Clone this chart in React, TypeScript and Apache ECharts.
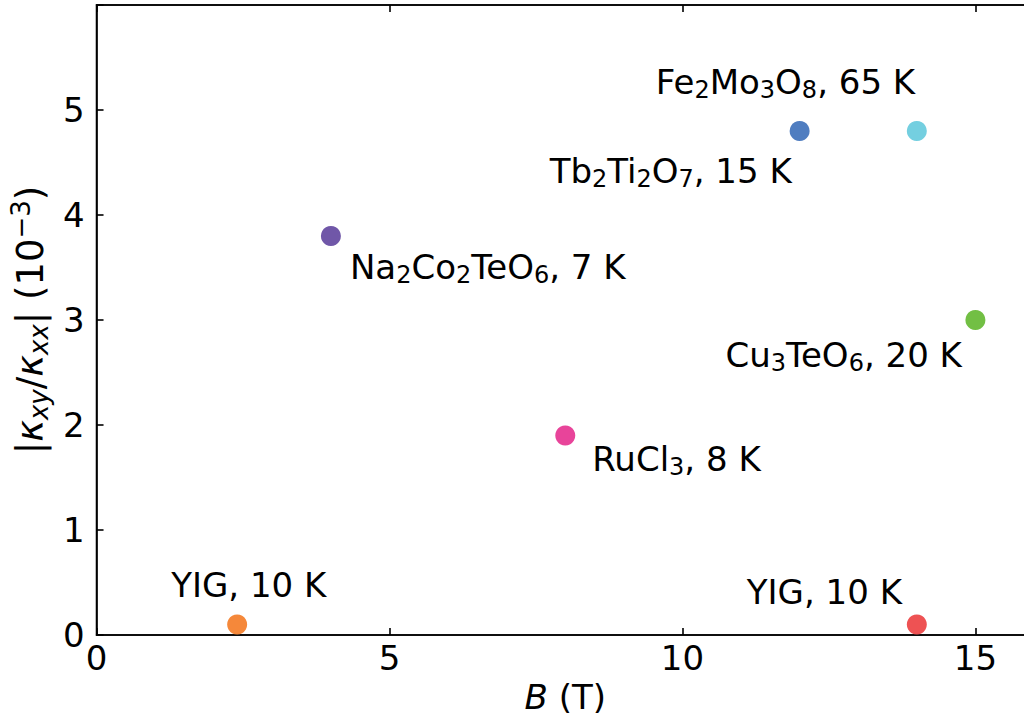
import React, { useEffect, useRef } from "react";
import * as echarts from "echarts";

// Data
const xValues = [2.4, 4, 8, 12, 14, 15, 14];
const yValues = [0.1, 3.8, 1.9, 4.8, 4.8, 3.0, 0.1];
const pointLabels = [
  "YIG, 10 K",
  "Na_2Co_2TeO_6, 7 K",
  "RuCl_3, 8 K",
  "Tb_2Ti_2O_7, 15 K",
  "Fe_2Mo_3O_8, 65 K",
  "Cu_3TeO_6, 20 K",
  "YIG, 10 K",
];
const pointColors = ["#f5883a", "#7057a8", "#e8449a", "#4f7dc0", "#74cfe0", "#72bf44", "#ee5253"];
// label placement (pixel offsets from point, text left / middle)
const labelOffsets = [
  [-66, -40],
  [19, 31],
  [27, 23],
  [-250, 40],
  [-261, -49],
  [-250, 35],
  [-170, -33],
];
const xTicks = [0, 5, 10, 15];
const yTicks = [0, 1, 2, 3, 4, 5];

const FONT = "DejaVu Sans";
const FS = 34;
const SUB = 24;
const YFS = 37;
const YSUB = 26;

function toRich(s: string): string {
  const parts = s.split(/_(\d)/);
  let out = "";
  parts.forEach((p, i) => {
    if (p === "") return;
    if (i % 2 === 1) out += `{s|${p}}`;
    else out += `{n|${p}}`;
  });
  return out;
}

const richBase = {
  n: { fontSize: FS, lineHeight: 40, fontFamily: FONT, color: "#000", verticalAlign: "middle" },
  s: { fontSize: SUB, lineHeight: 22, fontFamily: FONT, color: "#000", verticalAlign: "bottom" },
};

const richY = {
  n: { fontSize: YFS, lineHeight: 44, fontFamily: FONT, color: "#000", verticalAlign: "middle" },
  k: { fontSize: YFS, lineHeight: 44, fontFamily: FONT, color: "#000", fontStyle: "italic", verticalAlign: "middle" },
  ks: { fontSize: YSUB, lineHeight: 24, fontFamily: FONT, color: "#000", fontStyle: "italic", verticalAlign: "bottom" },
  sup: { fontSize: YSUB, lineHeight: 22, fontFamily: FONT, color: "#000", verticalAlign: "top" },
};

export default function App() {
  const ref = useRef<HTMLDivElement>(null);
  useEffect(() => {
    document.body.style.margin = "0";
    document.body.style.overflow = "hidden";
    document.documentElement.style.overflow = "hidden";
    if (!ref.current) return;
    const chart = echarts.init(ref.current, null, { renderer: "svg" });
    const data = xValues.map((x, i) => ({
      value: [x, yValues[i]],
      itemStyle: { color: pointColors[i], opacity: 1 },
      label: {
        show: true,
        position: "inside",
        align: "left",
        verticalAlign: "middle",
        offset: labelOffsets[i],
        formatter: toRich(pointLabels[i]),
        rich: richBase,
      },
    }));
    const axisLineStyle = { color: "#000", width: 1.6 };
    chart.setOption({
      animation: false,
      textStyle: { fontFamily: FONT },
      grid: {
        left: 95,
        top: 5,
        width: 939,
        height: 630,
        show: true,
        borderColor: "#000",
        borderWidth: 1.6,
        backgroundColor: "transparent",
      },
      xAxis: [
        {
          type: "value",
          min: 0,
          max: 16,
          interval: 5,
          position: "bottom",
          axisLine: { show: true, onZero: false, lineStyle: axisLineStyle },
          axisTick: { show: true, inside: true, length: 7, lineStyle: axisLineStyle },
          splitLine: { show: false },
          axisLabel: {
            fontSize: FS,
            color: "#000",
            fontFamily: FONT,
            margin: 6,
            showMaxLabel: false,
            formatter: (v: number) => (xTicks.includes(v) ? String(v) : ""),
          },
          name: "{i|B}{n| (T)}",
          nameLocation: "middle",
          nameGap: 45,
          nameTextStyle: {
            rich: {
              i: { fontSize: FS, fontFamily: FONT, fontStyle: "italic", color: "#000" },
              n: { fontSize: FS, fontFamily: FONT, color: "#000" },
            },
          },
        },
        {
          type: "value",
          min: 0,
          max: 16,
          interval: 5,
          position: "top",
          axisLine: { show: true, onZero: false, lineStyle: axisLineStyle },
          axisTick: { show: true, inside: true, length: 7, lineStyle: axisLineStyle },
          splitLine: { show: false },
          axisLabel: { show: false },
        },
      ],
      yAxis: {
        type: "value",
        min: 0,
        max: 6,
        interval: 1,
        axisLine: { show: true, onZero: false, lineStyle: axisLineStyle },
        axisTick: { show: true, inside: true, length: 7, lineStyle: axisLineStyle },
        splitLine: { show: false },
        axisLabel: {
          fontSize: FS,
          color: "#000",
          fontFamily: FONT,
          margin: 12,
          formatter: (v: number) => (yTicks.includes(v) ? String(v) : ""),
        },
        name: "{n||}{k|κ}{ks|xy}{n|/}{k|κ}{ks|xx}{n||}{n| (10}{sup|−3}{n|)}",
        nameLocation: "middle",
        nameRotate: 90,
        nameGap: 32,
        nameTextStyle: { rich: richY },
      },
      series: [
        {
          type: "scatter",
          xAxisIndex: 0,
          symbol: "circle",
          symbolSize: 20,
          data,
          clip: false,
        },
      ],
    });
    return () => chart.dispose();
  }, []);
  return (
    <div style={{ width: 1024, height: 723, overflow: "hidden", position: "relative" }}>
      <div ref={ref} style={{ width: 1060, height: 723 }} />
    </div>
  );
}
